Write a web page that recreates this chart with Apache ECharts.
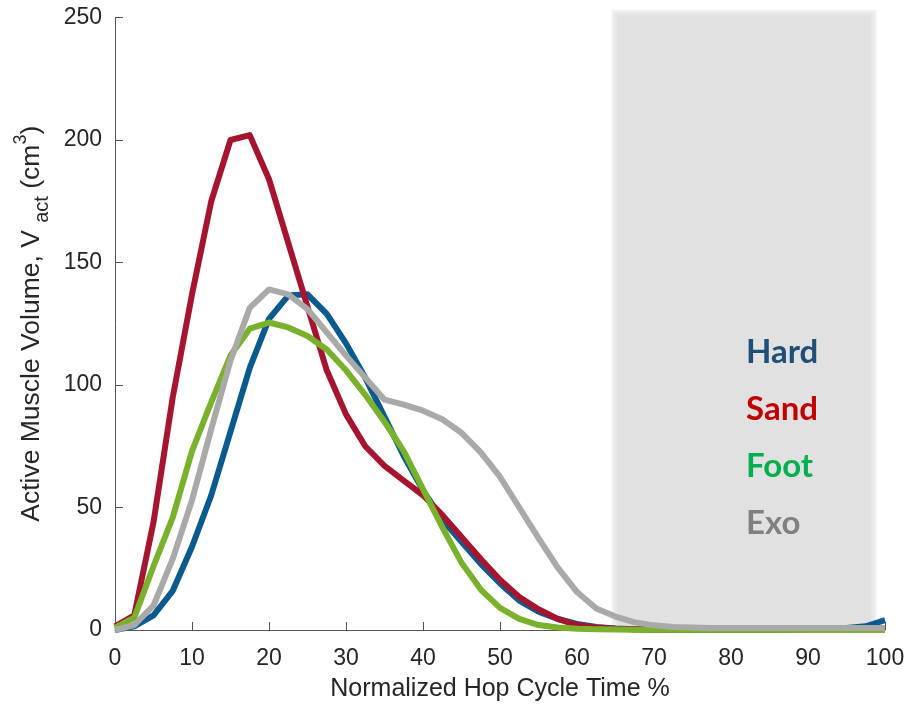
<!DOCTYPE html>
<html>
<head>
<meta charset="utf-8">
<script src="https://cdn.jsdelivr.net/npm/echarts@6/dist/echarts.min.js"></script>
<style>
  html, body { margin: 0; padding: 0; background: #ffffff; }
  #chart { width: 914px; height: 707px; }
</style>
</head>
<body>
<div id="chart"></div>
<script>
// Normalized hop cycle time (%), sampled every 2.5 %
const cycleTime = [0, 2.5, 5, 7.5, 10, 12.5, 15, 17.5, 20, 22.5, 25, 27.5, 30, 32.5, 35, 37.5, 40,
  42.5, 45, 47.5, 50, 52.5, 55, 57.5, 60, 62.5, 65, 67.5, 70, 72.5, 75, 77.5, 80, 82.5, 85, 87.5,
  90, 92.5, 95, 97.5, 100];

// Active muscle volume V_act (cm^3) for each condition
const hard = [0, 1.5, 6, 16, 34, 55, 81, 107, 127, 136.5, 137, 129, 117, 103, 87, 71, 57,
  45, 36, 27, 19, 12, 7.5, 4.5, 2.5, 1.2, 0.6, 0.3, 0.2, 0.2, 0.2, 0.2, 0.2, 0.2, 0.2, 0.3,
  0.4, 0.6, 0.8, 1.5, 4];
const sand = [1.5, 6, 44, 95, 137, 175, 200, 202, 184, 158, 132, 106, 88, 75, 67, 61, 55,
  47, 38, 29, 20.5, 13.5, 8.5, 4.5, 2, 1, 0.5, 0.3, 0.2, 0.2, 0.2, 0.2, 0.2, 0.2, 0.2, 0.2,
  0.2, 0.2, 0.2, 0.2, 0.2];
const foot = [1, 5, 26, 46, 73, 93, 112, 123, 125.5, 123.5, 120, 114.5, 106, 96, 85, 73, 57.5,
  42, 27.5, 16.5, 9, 4.5, 2, 1, 0.5, 0.3, 0.2, 0.1, 0.1, 0.1, 0.1, 0.1, 0.1, 0.1, 0.1, 0.1,
  0.1, 0.1, 0.1, 0.1, 0.1];
const exo = [0, 2, 10, 29, 53, 82, 110, 131.5, 139, 137, 131, 121.5, 112, 103, 94, 92, 89.5,
  86, 80.5, 72.5, 62.5, 50, 37.5, 25.5, 15.5, 8.8, 5.5, 3.1, 1.9, 1.2, 1, 0.8, 0.8, 0.8, 0.8, 0.8,
  0.8, 0.8, 0.8, 0.8, 0.8];

// Shaded interval of the cycle (%)
const shadedInterval = [64.8, 98.6];

const conditions = ['Hard', 'Sand', 'Foot', 'Exo'];
const lineColors = ['#0b5a8e', '#a5152f', '#79b12d', '#a9a9a9'];
const labelColors = ['#1f4e79', '#c00000', '#00b050', '#808080'];
const seriesValues = [hard, sand, foot, exo];

const axisFont = "'Liberation Sans', Arial, Helvetica, sans-serif";
const textColor = '#262626';
const axisColor = '#555555';
const shadeColor = [225, 225, 225];

const chart = echarts.init(document.getElementById('chart'), null, { renderer: 'canvas' });

const lineSeries = conditions.map((name, k) => ({
  name: name,
  type: 'line',
  data: cycleTime.map((x, i) => [x, seriesValues[k][i]]),
  showSymbol: false,
  symbol: 'none',
  smooth: false,
  z: 3 + k,
  lineStyle: { color: lineColors[k], width: 6, join: 'round', cap: 'butt' },
  itemStyle: { color: lineColors[k] },
  emphasis: { disabled: true },
  animation: false
}));

// Shaded band with soft edges: a solid core plus a few translucent outer layers
const shadeSeries = {
  type: 'custom',
  name: 'shade',
  z: 1,
  clip: false,
  silent: true,
  animation: false,
  data: [[shadedInterval[0], shadedInterval[1], 0]],
  encode: { x: [0, 1], y: 2 },
  renderItem: function (params, api) {
    const cs = params.coordSys;
    const x0 = api.coord([api.value(0), 0])[0];
    const x1 = api.coord([api.value(1), 0])[0];
    const top = cs.y - 5;
    const bottom = cs.y + cs.height + 1;
    const steps = 7;
    const children = [];
    for (let s = steps; s >= 1; s--) {
      const d = s - steps / 2 - 0.5;
      children.push({
        type: 'rect',
        shape: { x: x0 - d, y: top - d, width: (x1 - x0) + 2 * d, height: (bottom - top) + d },
        style: { fill: 'rgba(' + shadeColor.join(',') + ',' + (1 / steps * 1.6).toFixed(3) + ')' }
      });
    }
    children.push({
      type: 'rect',
      shape: { x: x0 + steps / 2, y: top + steps / 2, width: (x1 - x0) - steps, height: (bottom - top) - steps / 2 },
      style: { fill: 'rgb(' + shadeColor.join(',') + ')' }
    });
    return { type: 'group', children: children };
  }
};

chart.setOption({
  backgroundColor: '#ffffff',
  animation: false,
  grid: { left: 115, right: 29, top: 17.5, bottom: 75, containLabel: false },
  legend: {
    data: conditions.map((name, k) => ({ name: name, textStyle: { color: labelColors[k] } })),
    orient: 'vertical',
    left: 736,
    top: 330,
    icon: 'none',
    itemWidth: 0,
    itemHeight: 0,
    itemGap: 23,
    selectedMode: false,
    textStyle: {
      fontFamily: "Lato, 'Open Sans', sans-serif",
      fontWeight: 'bold',
      fontSize: 33,
      lineHeight: 34
    }
  },
  xAxis: {
    type: 'value',
    min: 0,
    max: 100,
    interval: 10,
    name: 'Normalized Hop Cycle Time %',
    nameLocation: 'middle',
    nameGap: 47,
    nameTextStyle: { fontFamily: axisFont, fontSize: 25, color: textColor },
    axisLine: { show: true, onZero: false, lineStyle: { color: axisColor, width: 1 } },
    axisTick: { show: true, inside: true, length: 8, lineStyle: { color: axisColor } },
    axisLabel: { fontFamily: axisFont, fontSize: 23, color: textColor, margin: 17 },
    splitLine: { show: false }
  },
  yAxis: {
    type: 'value',
    min: 0,
    max: 250,
    interval: 50,
    name: '{t|Active Muscle Volume, V }{s|act}{t| (cm}{p|3}{t|)}',
    nameLocation: 'middle',
    nameRotate: 90,
    nameGap: 63,
    nameTextStyle: {
      color: textColor,
      rich: {
        t: { fontFamily: axisFont, fontSize: 26.5, color: textColor, lineHeight: 40 },
        s: { fontFamily: axisFont, fontSize: 20, color: textColor, lineHeight: 19, verticalAlign: 'bottom' },
        p: { fontFamily: axisFont, fontSize: 18, color: textColor, lineHeight: 16, verticalAlign: 'top' }
      }
    },
    axisLine: { show: true, lineStyle: { color: axisColor, width: 1 } },
    axisTick: { show: true, inside: true, length: 8, lineStyle: { color: axisColor } },
    axisLabel: { fontFamily: axisFont, fontSize: 23, color: textColor, margin: 13 },
    splitLine: { show: false }
  },
  series: [shadeSeries].concat(lineSeries)
});
</script>
</body>
</html>
